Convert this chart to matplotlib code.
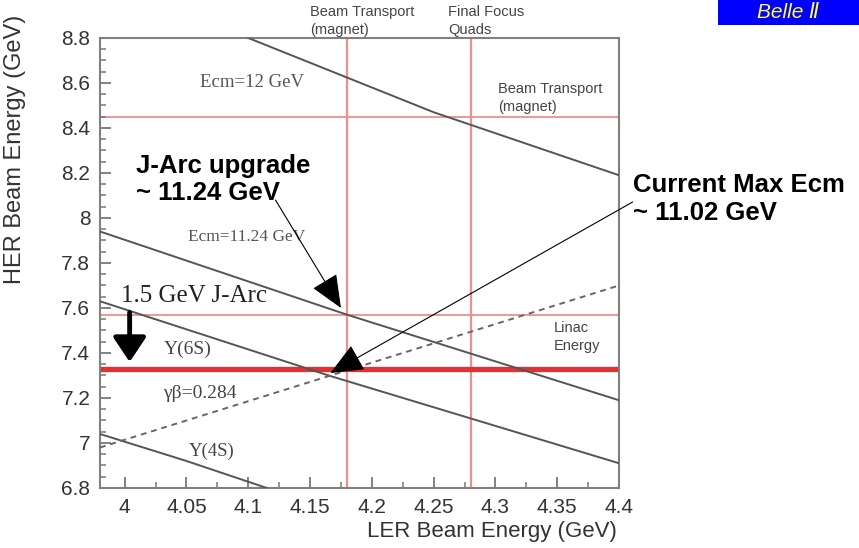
import matplotlib
matplotlib.use("Agg")
import matplotlib.pyplot as plt
from matplotlib.ticker import MultipleLocator
from matplotlib.patches import Rectangle

plt.rcParams['font.family'] = ['Liberation Sans', 'DejaVu Sans']

# iso-Ecm curves (LER energy, HER energy)
ecm12_x = [4.10, 4.25, 4.40]
ecm12_y = [8.80, 8.47, 8.19]
ecm1124_x = [3.98, 4.18, 4.40]
ecm1124_y = [7.94, 7.57, 7.19]
y6s_x = [3.98, 4.165, 4.40]
y6s_y = [7.63, 7.30, 6.91]
y4s_x = [3.98, 4.05, 4.115]
y4s_y = [7.04, 6.92, 6.80]
# boost line gamma*beta = 0.284
boost_x = [3.98, 4.40]
boost_y = [6.98, 7.70]

# limits (red lines)
ler_limits = [4.18, 4.28]
her_limits = [8.45, 7.57]
linac_energy = 7.33

fig = plt.figure(figsize=(8.59, 5.48), dpi=100)
ax = fig.add_axes([0.1164, 0.1095, 0.6042, 0.8212])

pink = '#ee8f8f'
for x in ler_limits:
    ax.axvline(x, color=pink, lw=1.6, zorder=1)
for y in her_limits:
    ax.axhline(y, color=pink, lw=1.3, zorder=1)
ax.axhline(linac_energy, color='#dd3333', lw=3.8, zorder=2)

gray = '#555555'
for xs, ys in [(ecm12_x, ecm12_y), (ecm1124_x, ecm1124_y), (y6s_x, y6s_y), (y4s_x, y4s_y)]:
    ax.plot(xs, ys, color=gray, lw=1.4, zorder=3)
ax.plot(boost_x, boost_y, color='#666666', lw=1.4, ls=(0, (3, 2.5)), zorder=3)

ax.set_xlim(3.98, 4.4)
ax.set_ylim(6.8, 8.8)
ax.xaxis.set_minor_locator(MultipleLocator(0.025))
ax.yaxis.set_minor_locator(MultipleLocator(0.05))
ax.set_xticks([4, 4.05, 4.1, 4.15, 4.2, 4.25, 4.3, 4.35, 4.4])
ax.set_xticklabels(['4', '4.05', '4.1', '4.15', '4.2', '4.25', '4.3', '4.35', '4.4'])
ax.set_yticks([6.8, 7, 7.2, 7.4, 7.6, 7.8, 8, 8.2, 8.4, 8.6, 8.8])
ax.set_yticklabels(['6.8', '7', '7.2', '7.4', '7.6', '7.8', '8', '8.2', '8.4', '8.6', '8.8'])
ax.tick_params(which='both', direction='in', color='#777777', labelsize=15, labelcolor='#333333')
ax.tick_params(which='major', length=8, width=1.3, pad=7)
ax.tick_params(which='minor', length=4, width=1.1)
ax.tick_params(top=False, right=False, which='both')
for s in ax.spines.values():
    s.set_color('#808080')
    s.set_linewidth(1.5)

fig.text(0.018, 0.728, 'HER Beam Energy (GeV)', rotation=90, ha='center', va='center',
         fontsize=17, color='#333333')
fig.text(0.573, 0.03, 'LER Beam Energy (GeV)', ha='center', va='center',
         fontsize=16, color='#333333')

serif = 'Liberation Serif'
ax.text(4.061, 8.604, 'Ecm=12 GeV', family=serif, fontsize=13.5, color=gray, va='center')
ax.text(4.051, 7.916, 'Ecm=11.24 GeV', family=serif, fontsize=12.5, color=gray, va='center')
ax.text(3.997, 7.653, '1.5 GeV J-Arc', family=serif, fontsize=18, color='#222222', va='center')
ax.text(4.0315, 7.418, 'Y(6S)', family=serif, fontsize=14, color='#444444', va='center')
ax.text(4.031, 7.218, 'γβ=0.284', family=serif, fontsize=14, color='#444444', va='center')
ax.text(4.052, 6.965, 'Y(4S)', family=serif, fontsize=13.5, color='#444444', va='center')

small = dict(fontsize=10.5, color='#444444', va='center', linespacing=1.3)
ax.text(4.347, 7.471, 'Linac\nEnergy', **small)
ax.text(4.302, 8.533, 'Beam Transport\n(magnet)', **small)
ax.text(4.150, 8.875, 'Beam Transport\n(magnet)', clip_on=False, **small)
ax.text(4.262, 8.875, 'Final Focus\nQuads', clip_on=False, **small)

ax.text(4.009, 8.17, 'J-Arc upgrade\n~ 11.24 GeV', fontsize=18.5, fontweight='bold',
        va='center', linespacing=1.15)
fig.text(0.737, 0.637, 'Current Max Ecm\n~ 11.02 GeV', fontsize=18.5, fontweight='bold',
         va='center', linespacing=1.2)

head = dict(arrowstyle='-|>,head_length=0.7,head_width=0.3', mutation_scale=30,
            lw=0.8, color='black', shrinkA=0, shrinkB=0)
ax.annotate('', xy=(4.175, 7.60), xytext=(4.122, 8.08), arrowprops=head,
            annotation_clip=False, zorder=5)
ax.annotate('', xy=(4.1665, 7.311), xytext=(4.411, 8.071), arrowprops=head,
            annotation_clip=False, zorder=5)
ax.annotate('', xy=(4.004, 7.36), xytext=(4.004, 7.58),
            arrowprops=dict(arrowstyle='-|>,head_length=0.6,head_width=0.4', mutation_scale=25,
                            lw=3.5, color='black', shrinkA=0, shrinkB=0), zorder=5)

fig.patches.append(Rectangle((0.836, 0.954), 0.164, 0.046, transform=fig.transFigure,
                             facecolor='#0000ff', edgecolor='none'))
fig.text(0.918, 0.977, 'Belle Ⅱ', fontsize=15, style='italic', color='#ffff33',
         ha='center', va='center')

fig.savefig('out.png', dpi=100)
